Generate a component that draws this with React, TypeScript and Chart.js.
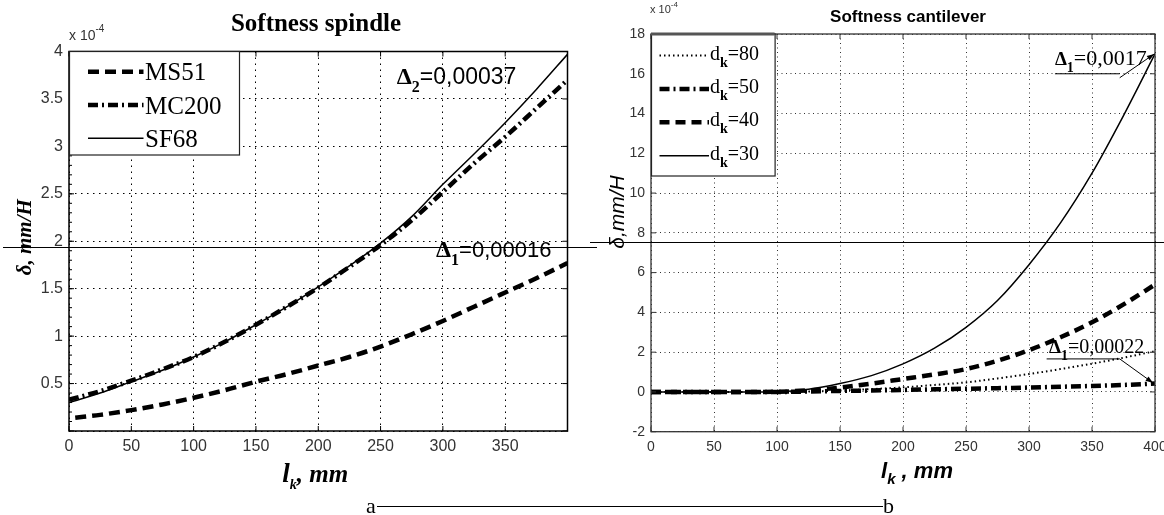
import React, { useEffect, useRef } from 'react';
import { Chart, registerables } from 'chart.js';

Chart.register(...registerables);

// ---------------- Softness spindle (δ in units of 1e-4 mm/H) ----------------
const spindleX = [0, 25, 50, 75, 100, 125, 150, 175, 200, 225, 250, 275, 300, 325, 350, 375, 400];
const ms51X = [5, 25, 50, 75, 100, 125, 150, 175, 200, 225, 250, 275, 300, 325, 350, 375, 400];
const ms51 = [0.14, 0.17, 0.22, 0.28, 0.35, 0.43, 0.52, 0.6, 0.69, 0.78, 0.89, 1.02, 1.16, 1.31, 1.46, 1.61, 1.77];
const mc200 = [0.33, 0.42, 0.53, 0.65, 0.78, 0.94, 1.12, 1.31, 1.51, 1.73, 1.96, 2.22, 2.52, 2.82, 3.1, 3.4, 3.7];
const sf68 = [0.3, 0.4, 0.52, 0.64, 0.78, 0.94, 1.12, 1.31, 1.52, 1.74, 1.98, 2.26, 2.6, 2.92, 3.25, 3.6, 3.97];
const spindleLegend = ['MS51', 'MC200', 'SF68'];
const spindleXTickLabels = ['0', '50', '100', '150', '200', '250', '300', '350', ''];
const spindleYTickLabels = ['', '0.5', '1', '1.5', '2', '2.5', '3', '3.5', '4'];

// ---------------- Softness cantilever (δ in units of 1e-4 mm/H) ----------------
const cantX = [0, 25, 50, 75, 100, 125, 150, 175, 200, 225, 250, 275, 300, 325, 350, 375, 400];
const dk80 = [0, 0, 0, 0, 0, 0.02, 0.07, 0.14, 0.23, 0.35, 0.48, 0.68, 0.9, 1.15, 1.42, 1.72, 2.05];
const dk50 = [0, 0, 0, 0, 0, 0.02, 0.05, 0.07, 0.1, 0.13, 0.16, 0.19, 0.22, 0.26, 0.3, 0.35, 0.42];
const dk40 = [0, 0, 0, 0, 0.01, 0.08, 0.22, 0.42, 0.65, 0.88, 1.15, 1.57, 2.1, 2.75, 3.5, 4.4, 5.4];
const dk30 = [0, 0, 0, 0, 0.01, 0.13, 0.42, 0.82, 1.41, 2.2, 3.25, 4.6, 6.4, 8.5, 11.0, 13.9, 17.0];
const cantLegend = ['80', '50', '40', '30'];
const cantXTickLabels = ['0', '50', '100', '150', '200', '250', '300', '350', '400'];
const cantYTickLabels = ['-2', '0', '2', '4', '6', '8', '10', '12', '14', '16', '18'];

const SERIF = '"Liberation Serif", "Times New Roman", serif';
const SANS = '"Liberation Sans", Arial, sans-serif';

type Part = { t: string; font: string; dy?: number };

function textWidth(ctx: CanvasRenderingContext2D, parts: Part[]) {
  let w = 0;
  parts.forEach((p) => {
    ctx.font = p.font;
    w += ctx.measureText(p.t).width;
  });
  return w;
}

function drawParts(ctx: CanvasRenderingContext2D, x: number, y: number, parts: Part[], align: 'left' | 'center' = 'left') {
  let cx = align === 'center' ? x - textWidth(ctx, parts) / 2 : x;
  ctx.textAlign = 'left';
  ctx.textBaseline = 'alphabetic';
  parts.forEach((p) => {
    ctx.font = p.font;
    ctx.fillText(p.t, cx, y + (p.dy || 0));
    cx += ctx.measureText(p.t).width;
  });
}

function seg(ctx: CanvasRenderingContext2D, x1: number, y1: number, x2: number, y2: number) {
  ctx.beginPath();
  ctx.moveTo(x1, y1);
  ctx.lineTo(x2, y2);
  ctx.stroke();
}

function arrow(ctx: CanvasRenderingContext2D, x1: number, y1: number, x2: number, y2: number, size = 8) {
  seg(ctx, x1, y1, x2, y2);
  const a = Math.atan2(y2 - y1, x2 - x1);
  ctx.beginPath();
  ctx.moveTo(x2, y2);
  ctx.lineTo(x2 - size * Math.cos(a - 0.33), y2 - size * Math.sin(a - 0.33));
  ctx.lineTo(x2 - size * Math.cos(a + 0.33), y2 - size * Math.sin(a + 0.33));
  ctx.closePath();
  ctx.fill();
}

function series(xs: number[], ys: number[], dash: number[], width: number) {
  return {
    data: xs.map((x, i) => ({ x, y: ys[i] })),
    borderColor: '#000',
    backgroundColor: '#000',
    borderWidth: width,
    borderDash: dash,
    borderCapStyle: 'butt',
    pointRadius: 0,
    fill: false,
    cubicInterpolationMode: 'monotone',
  };
}

function drawTicks(ctx: CanvasRenderingContext2D, chart: any, len: number) {
  const a = chart.chartArea;
  const { x, y } = chart.scales;
  x.ticks.forEach((t: any) => {
    const px = x.getPixelForValue(t.value);
    seg(ctx, px, a.bottom, px, a.bottom - len);
    seg(ctx, px, a.top, px, a.top + len);
  });
  y.ticks.forEach((t: any) => {
    const py = y.getPixelForValue(t.value);
    seg(ctx, a.left, py, a.left + len, py);
    seg(ctx, a.right, py, a.right - len, py);
  });
}

const spindlePlugin = {
  id: 'spindleDeco',
  afterDraw(chart: any) {
    const { ctx, chartArea: a } = chart;
    const { x, y } = chart.scales;
    ctx.save();
    ctx.setLineDash([]);
    ctx.fillStyle = '#000';
    ctx.strokeStyle = '#000';

    // ticks
    ctx.lineWidth = 1;
    drawTicks(ctx, chart, 5);
    for (let v = 0.1; v < 4; v += 0.1) {
      const py = y.getPixelForValue(v);
      seg(ctx, a.left, py, a.left + 3, py);
    }
    // box
    ctx.lineWidth = 1.5;
    ctx.strokeRect(a.left, a.top, a.right - a.left, a.bottom - a.top);

    // legend
    const lw = 170, lh = 103.5;
    ctx.fillStyle = '#fff';
    ctx.fillRect(a.left, a.top, lw, lh);
    ctx.lineWidth = 1.2;
    ctx.strokeStyle = '#222';
    ctx.strokeRect(a.left + 0.5, a.top, lw, lh);
    chart.data.datasets.forEach((ds: any, i: number) => {
      const ry = a.top + 20.2 + i * 33.3;
      ctx.save();
      ctx.strokeStyle = '#000';
      ctx.lineWidth = ds.borderWidth;
      ctx.setLineDash(ds.borderDash || []);
      seg(ctx, a.left + 19, ry, a.left + 74.5, ry);
      ctx.restore();
      ctx.fillStyle = '#000';
      drawParts(ctx, a.left + 76, ry + 8.5, [{ t: spindleLegend[i], font: `25px ${SERIF}` }]);
    });

    ctx.fillStyle = '#000';
    // title
    drawParts(ctx, 316, 31, [{ t: 'Softness spindle', font: `bold 25px ${SERIF}` }], 'center');
    // exponent
    ctx.fillStyle = '#333';
    drawParts(ctx, a.left, 40, [
      { t: 'x 10', font: `14px ${SANS}` },
      { t: '-4', font: `10px ${SANS}`, dy: -8 },
    ]);
    ctx.fillStyle = '#000';
    // annotations
    drawParts(ctx, x.getPixelForValue(263), y.getPixelForValue(3.66), [
      { t: 'Δ', font: `bold 24px ${SERIF}` },
      { t: '2', font: `bold 16px ${SERIF}`, dy: 8 },
      { t: '=0,00037', font: `23px ${SANS}` },
    ]);
    drawParts(ctx, x.getPixelForValue(294.5), y.getPixelForValue(1.83), [
      { t: 'Δ', font: `bold 24px ${SERIF}` },
      { t: '1', font: `bold 16px ${SERIF}`, dy: 8 },
      { t: '=0,00016', font: `22px ${SANS}` },
    ]);
    // axis titles
    ctx.save();
    ctx.translate(24, (a.top + a.bottom) / 2 - 4);
    ctx.rotate(-Math.PI / 2);
    drawParts(ctx, 0, 7, [{ t: 'δ, mm/H', font: `bold italic 21px ${SERIF}` }], 'center');
    ctx.restore();
    drawParts(ctx, (a.left + a.right) / 2 - 3, 482, [
      { t: 'l', font: `bold italic 27px ${SERIF}` },
      { t: 'k', font: `bold italic 14px ${SERIF}`, dy: 7 },
      { t: ', mm', font: `bold italic 25px ${SERIF}` },
    ], 'center');
    // figure label
    drawParts(ctx, 366, 513, [{ t: 'a', font: `22px ${SERIF}` }]);
    ctx.restore();
  },
};

const cantPlugin = {
  id: 'cantDeco',
  afterDraw(chart: any) {
    const { ctx, chartArea: a } = chart;
    const { x, y } = chart.scales;
    ctx.save();
    ctx.setLineDash([]);
    ctx.fillStyle = '#000';
    ctx.strokeStyle = '#333';
    ctx.lineWidth = 1;
    drawTicks(ctx, chart, 5);
    ctx.lineWidth = 1.3;
    ctx.strokeRect(a.left, a.top, a.right - a.left, a.bottom - a.top);

    // legend
    const lw = 123.6, lh = 142;
    ctx.fillStyle = '#fff';
    ctx.fillRect(a.left, a.top, lw, lh);
    ctx.strokeStyle = '#222';
    ctx.lineWidth = 1.2;
    ctx.strokeRect(a.left + 0.5, a.top, lw, lh);
    ctx.strokeStyle = '#555';
    ctx.lineWidth = 3;
    seg(ctx, a.left, a.top, a.left + lw, a.top);
    chart.data.datasets.forEach((ds: any, i: number) => {
      const ry = a.top + 21.5 + i * 33.4;
      ctx.save();
      ctx.strokeStyle = '#000';
      ctx.lineWidth = ds.borderWidth;
      ctx.setLineDash(ds.borderDash || []);
      seg(ctx, a.left + 8.5, ry, a.left + 58, ry);
      ctx.restore();
      ctx.fillStyle = '#000';
      drawParts(ctx, a.left + 59, ry + 4, [
        { t: 'd', font: `20px ${SERIF}` },
        { t: 'k', font: `bold 14px ${SERIF}`, dy: 7 },
        { t: '=' + cantLegend[i], font: `20px ${SERIF}` },
      ]);
    });

    ctx.fillStyle = '#000';
    drawParts(ctx, 318, 22, [{ t: 'Softness cantilever', font: `bold 17px ${SANS}` }], 'center');
    ctx.fillStyle = '#333';
    drawParts(ctx, a.left - 1, 13, [
      { t: 'x 10', font: `11px ${SANS}` },
      { t: '-4', font: `8px ${SANS}`, dy: -6 },
    ]);
    ctx.fillStyle = '#000';
    ctx.strokeStyle = '#000';
    ctx.lineWidth = 1;

    // Δ1 = 0,0017
    const t1x = x.getPixelForValue(320.6), t1y = y.getPixelForValue(16.44);
    drawParts(ctx, t1x, t1y, [
      { t: 'Δ', font: `bold 19px ${SERIF}` },
      { t: '1', font: `bold 14px ${SERIF}`, dy: 7 },
      { t: '=0,0017', font: `22px ${SERIF}` },
    ]);
    seg(ctx, x.getPixelForValue(320.6), y.getPixelForValue(16), x.getPixelForValue(372), y.getPixelForValue(16));
    arrow(ctx, x.getPixelForValue(372), y.getPixelForValue(15.8), x.getPixelForValue(399.5), y.getPixelForValue(17.0));

    // Δ1 = 0,00022
    drawParts(ctx, x.getPixelForValue(315.9), y.getPixelForValue(1.98), [
      { t: 'Δ', font: `bold 19px ${SERIF}` },
      { t: '1', font: `bold 14px ${SERIF}`, dy: 7 },
      { t: '=0,00022', font: `20px ${SERIF}` },
    ]);
    seg(ctx, x.getPixelForValue(314), y.getPixelForValue(1.66), x.getPixelForValue(372), y.getPixelForValue(1.66));
    arrow(ctx, x.getPixelForValue(372), y.getPixelForValue(1.66), x.getPixelForValue(398.5), y.getPixelForValue(0.45));

    // axis titles
    ctx.save();
    ctx.translate(28, 212);
    ctx.rotate(-Math.PI / 2);
    drawParts(ctx, 0, 6, [{ t: 'δ,mm/H', font: `italic 21px ${SANS}` }], 'center');
    ctx.restore();
    drawParts(ctx, 327, 478, [
      { t: 'l', font: `bold italic 22px ${SANS}` },
      { t: 'k', font: `bold italic 15px ${SANS}`, dy: 6 },
      { t: ' , mm', font: `bold italic 22px ${SANS}` },
    ], 'center');
    drawParts(ctx, 293, 513, [{ t: 'b', font: `22px ${SERIF}` }]);
    ctx.restore();
  },
};

function spindleConfig(): any {
  return {
    type: 'line',
    data: {
      datasets: [
        series(ms51X, ms51, [11, 6], 4.5),
        series(spindleX, mc200, [10, 4, 2, 4], 4.5),
        series(spindleX, sf68, [], 1.5),
      ],
    },
    options: {
      responsive: false,
      animation: false,
      events: [],
      layout: { padding: { top: 51.5, right: 22.5, left: 0, bottom: 0 } },
      plugins: { legend: { display: false }, tooltip: { enabled: false }, title: { display: false } },
      scales: {
        x: {
          type: 'linear',
          min: 0,
          max: 400,
          ticks: {
            stepSize: 50,
            autoSkip: false,
            maxRotation: 0,
            padding: 6,
            color: '#333',
            font: { family: SANS, size: 16 },
            callback: (_v: any, i: number) => spindleXTickLabels[i],
          },
          grid: { color: '#000', lineWidth: 1, drawTicks: false },
          border: { display: false, dash: [1.5, 4.5] },
          afterFit: (s: any) => {
            s.height = 84;
            s.paddingLeft = 0;
            s.paddingRight = 0;
          },
        },
        y: {
          type: 'linear',
          min: 0,
          max: 4,
          ticks: {
            stepSize: 0.5,
            autoSkip: false,
            padding: 6,
            color: '#333',
            font: { family: SANS, size: 16 },
            callback: (_v: any, i: number) => spindleYTickLabels[i],
          },
          grid: { color: '#000', lineWidth: 1, drawTicks: false },
          border: { display: false, dash: [1.5, 4.5] },
          afterFit: (s: any) => {
            s.width = 69;
            s.paddingTop = 0;
            s.paddingBottom = 0;
          },
        },
      },
    },
    plugins: [spindlePlugin],
  };
}

function cantConfig(): any {
  return {
    type: 'line',
    data: {
      datasets: [
        series(cantX, dk80, [1.5, 3], 2),
        series(cantX, dk50, [10, 4, 2, 4], 4.5),
        series(cantX, dk40, [10, 6], 4.5),
        series(cantX, dk30, [], 1.5),
      ],
    },
    options: {
      responsive: false,
      animation: false,
      events: [],
      layout: { padding: { top: 34, right: 9, left: 0, bottom: 0 } },
      plugins: { legend: { display: false }, tooltip: { enabled: false }, title: { display: false } },
      scales: {
        x: {
          type: 'linear',
          min: 0,
          max: 400,
          ticks: {
            stepSize: 50,
            autoSkip: false,
            maxRotation: 0,
            padding: 7,
            color: '#333',
            font: { family: SANS, size: 14 },
            callback: (_v: any, i: number) => cantXTickLabels[i],
          },
          grid: { color: '#333', lineWidth: 1, drawTicks: false },
          border: { display: false, dash: [1, 3.5] },
          afterFit: (s: any) => {
            s.height = 83.3;
            s.paddingLeft = 0;
            s.paddingRight = 0;
          },
        },
        y: {
          type: 'linear',
          min: -2,
          max: 18,
          ticks: {
            stepSize: 2,
            autoSkip: false,
            padding: 6,
            color: '#333',
            font: { family: SANS, size: 14 },
            callback: (_v: any, i: number) => cantYTickLabels[i],
          },
          grid: { color: '#333', lineWidth: 1, drawTicks: false },
          border: { display: false, dash: [1, 3.5] },
          afterFit: (s: any) => {
            s.width = 61;
            s.paddingTop = 0;
            s.paddingBottom = 0;
          },
        },
      },
    },
    plugins: [cantPlugin],
  };
}

export default function App() {
  const leftRef = useRef<HTMLCanvasElement>(null);
  const rightRef = useRef<HTMLCanvasElement>(null);

  useEffect(() => {
    document.body.style.margin = '0';
    const c1 = new Chart(leftRef.current as HTMLCanvasElement, spindleConfig());
    const c2 = new Chart(rightRef.current as HTMLCanvasElement, cantConfig());
    return () => {
      c1.destroy();
      c2.destroy();
    };
  }, []);

  return (
    <div style={{ position: 'relative', width: 1164, height: 515, background: '#fff', overflow: 'hidden' }}>
      <canvas ref={leftRef} width={590} height={515} style={{ position: 'absolute', left: 0, top: 0, width: 590, height: 515 }} />
      <canvas ref={rightRef} width={574} height={515} style={{ position: 'absolute', left: 590, top: 0, width: 574, height: 515 }} />
      <div style={{ position: 'absolute', left: 3, top: 246.8, width: 594, height: 1.4, background: '#000' }} />
      <div style={{ position: 'absolute', left: 590, top: 241.8, width: 574, height: 1.4, background: '#000' }} />
      <div style={{ position: 'absolute', left: 377, top: 505.8, width: 506, height: 1.4, background: '#000' }} />
    </div>
  );
}
